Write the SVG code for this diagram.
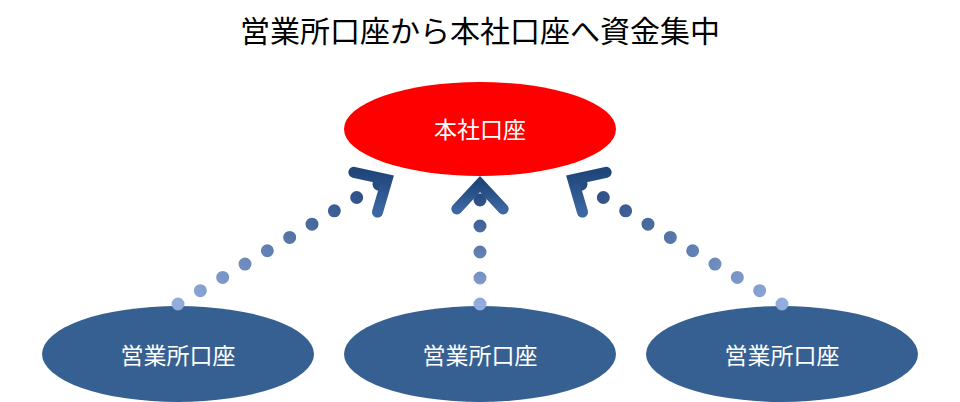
<svg xmlns="http://www.w3.org/2000/svg" width="960" height="402" viewBox="0 0 960 402">
  <defs>
    <style>
      .t { font-family: "Noto Sans CJK JP", "Noto Sans", sans-serif; text-anchor: middle; dominant-baseline: central; }
      .title { font-size: 30px; fill: #000; }
      .lbl { font-size: 23px; fill: #fff; }
      .branch { fill: #376092; }
      .hq { fill: #ff0000; }
      .dots { fill: none; stroke-width: 13; stroke-linecap: round; stroke-dasharray: 0 26; }
      .head { fill: none; stroke: url(#gHead); stroke-width: 11; stroke-linecap: round; stroke-linejoin: miter; }
    </style>
    <linearGradient id="gHead" x1="0" y1="0" x2="0" y2="1">
      <stop offset="0" stop-color="#1f4679"/>
      <stop offset="1" stop-color="#3d67a2"/>
    </linearGradient>
    <linearGradient id="gL" gradientUnits="userSpaceOnUse" x1="178" y1="304" x2="384" y2="181">
      <stop offset="0" stop-color="#92addd"/>
      <stop offset="1" stop-color="#23467d"/>
    </linearGradient>
    <linearGradient id="gM" gradientUnits="userSpaceOnUse" x1="480" y1="304" x2="480" y2="190">
      <stop offset="0" stop-color="#92addd"/>
      <stop offset="1" stop-color="#23467d"/>
    </linearGradient>
    <linearGradient id="gR" gradientUnits="userSpaceOnUse" x1="782" y1="304" x2="576" y2="181">
      <stop offset="0" stop-color="#92addd"/>
      <stop offset="1" stop-color="#23467d"/>
    </linearGradient>
  </defs>
  <rect width="960" height="402" fill="#fff"/>
  <text class="t title" x="480" y="29">営業所口座から本社口座へ資金集中</text>

  <g id="hq">
    <ellipse class="hq" cx="480" cy="129" rx="136" ry="47"/>
    <text class="t lbl" x="480" y="128">本社口座</text>
  </g>
  <g id="branch-left">
    <ellipse class="branch" cx="178" cy="354" rx="136" ry="48"/>
    <text class="t lbl" x="178" y="354">営業所口座</text>
  </g>
  <g id="branch-center">
    <ellipse class="branch" cx="480" cy="354" rx="136" ry="48"/>
    <text class="t lbl" x="480" y="354">営業所口座</text>
  </g>
  <g id="branch-right">
    <ellipse class="branch" cx="782" cy="354" rx="136" ry="48"/>
    <text class="t lbl" x="782" y="354">営業所口座</text>
  </g>

  <g id="connectors">
    <path class="dots" stroke="url(#gL)" d="M178,304 L384.2,181.1"/>
    <path class="head" d="M353.8,172.3 L387,179.5 L377.5,212.1"/>
    <path class="dots" stroke="url(#gM)" d="M480,304 L480,192"/>
    <path class="head" d="M456.8,208.9 L480,184 L503.2,208.9"/>
    <path class="dots" stroke="url(#gR)" d="M782,304 L575.8,181.1"/>
    <path class="head" d="M606.2,172.3 L573,179.5 L582.5,212.1"/>
  </g>
</svg>
